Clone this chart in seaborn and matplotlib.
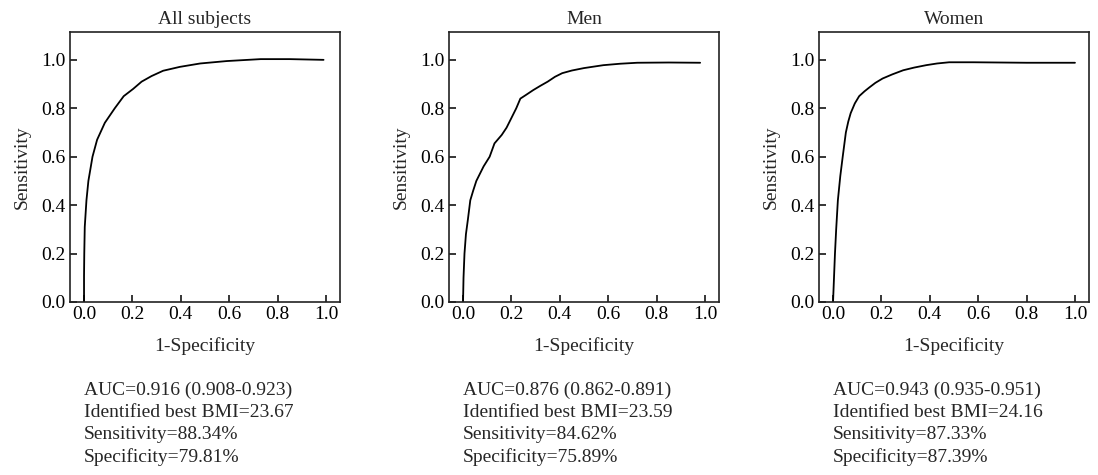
import matplotlib
matplotlib.use("Agg")
import matplotlib.pyplot as plt
import matplotlib.transforms as mtransforms
import pandas as pd
import seaborn as sns

# ROC curve points
all_fpr = [0.0, 0.0, 0.001, 0.003, 0.01, 0.018, 0.035, 0.054, 0.086, 0.127, 0.164, 0.203, 0.238,
           0.279, 0.327, 0.396, 0.48, 0.59, 0.73, 0.85, 0.99]
all_tpr = [0.0, 0.106, 0.2, 0.31, 0.42, 0.50, 0.60, 0.67, 0.74, 0.80, 0.85, 0.88, 0.91,
           0.933, 0.955, 0.971, 0.985, 0.995, 1.003, 1.003, 1.0]

men_fpr = [0.0, 0.002, 0.006, 0.012, 0.02, 0.03, 0.042, 0.055, 0.07, 0.085, 0.11, 0.13, 0.16, 0.18,
           0.20, 0.22, 0.237, 0.26, 0.29, 0.32, 0.35, 0.38, 0.41, 0.45, 0.50, 0.58, 0.65, 0.72, 0.85, 0.98]
men_tpr = [0.0, 0.1, 0.2, 0.28, 0.34, 0.42, 0.46, 0.5, 0.53, 0.56, 0.6, 0.655, 0.69, 0.72,
           0.76, 0.8, 0.84, 0.855, 0.875, 0.893, 0.91, 0.93, 0.945, 0.956, 0.966, 0.978, 0.984, 0.988, 0.989, 0.988]

women_fpr = [0.0, 0.004, 0.008, 0.013, 0.02, 0.03, 0.04, 0.053, 0.063, 0.073, 0.09, 0.108, 0.13, 0.15,
             0.175, 0.205, 0.245, 0.29, 0.335, 0.385, 0.43, 0.48, 0.58, 0.8, 1.0]
women_tpr = [0.0, 0.1, 0.2, 0.3, 0.42, 0.52, 0.6, 0.70, 0.745, 0.78, 0.82, 0.85, 0.87, 0.886,
             0.905, 0.923, 0.94, 0.957, 0.968, 0.978, 0.985, 0.99, 0.99, 0.988, 0.988]

titles = ["All subjects", "Men", "Women"]
summaries = [
    ["AUC=0.916 (0.908-0.923)", "Identified best BMI=23.67", "Sensitivity=88.34%", "Specificity=79.81%"],
    ["AUC=0.876 (0.862-0.891)", "Identified best BMI=23.59", "Sensitivity=84.62%", "Specificity=75.89%"],
    ["AUC=0.943 (0.935-0.951)", "Identified best BMI=24.16", "Sensitivity=87.33%", "Specificity=87.39%"],
]
ticks = [0.0, 0.2, 0.4, 0.6, 0.8, 1.0]
tick_labels = ["0.0", "0.2", "0.4", "0.6", "0.8", "1.0"]

sns.set_style("ticks")
plt.rcParams["font.family"] = ["Liberation Serif", "DejaVu Serif"]
plt.rcParams["font.size"] = 14

curves = [(all_fpr, all_tpr), (men_fpr, men_tpr), (women_fpr, women_tpr)]

fig = plt.figure(figsize=(10.98, 4.75), dpi=100)
lefts = [70 / 1098, 449 / 1098, 819 / 1098]
for i, (fpr, tpr) in enumerate(curves):
    ax = fig.add_axes([lefts[i], 173 / 475, 270 / 1098, 270 / 475])
    df = pd.DataFrame({"fpr": fpr, "tpr": tpr})
    sns.lineplot(data=df, x="fpr", y="tpr", sort=False, estimator=None,
                 color="black", linewidth=1.3, ax=ax)
    ax.set_xlim(-0.058, 1.058)
    ax.set_ylim(0, 1.115)
    ax.set_xticks(ticks)
    ax.set_xticklabels(tick_labels)
    ax.set_yticks(ticks)
    ax.set_yticklabels(tick_labels)
    ax.tick_params(direction="in", length=5, width=1.1, labelsize=14, pad=3, colors="black")
    for sp in ax.spines.values():
        sp.set_linewidth(1.2)
        sp.set_color("#222222")
    ax.set_title(titles[i], fontsize=14, pad=6)
    ax.set_xlabel("1-Specificity", fontsize=14, labelpad=10)
    ax.set_ylabel("Sensitivity", fontsize=14, labelpad=8)

    trans = mtransforms.blended_transform_factory(ax.transData, fig.transFigure)
    fig.text(0.0, 1 - 382 / 475, "\n".join(summaries[i]), transform=trans,
             ha="left", va="top", fontsize=14, linespacing=1.38)

fig.savefig("out.png", dpi=100)
